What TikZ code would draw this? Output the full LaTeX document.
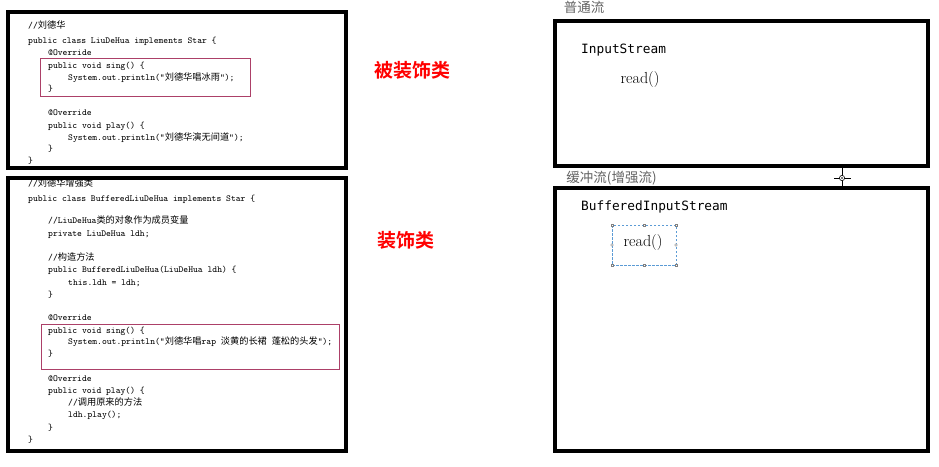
\documentclass[tikz,border=0pt]{standalone}
\usepackage{fontspec}
\newfontfamily\cjk[BoldFont={Noto Sans CJK SC Bold}]{Noto Sans CJK SC}
\newfontfamily\consfont{DejaVu Sans Mono}
\newcommand\codefont{\fontsize{9.2}{11}\selectfont\ttfamily}
\newcommand\zhtext[1]{{\cjk #1}}
\definecolor{hlred}{RGB}{172,64,104}
\definecolor{lblgray}{RGB}{100,100,100}
\definecolor{selblue}{RGB}{91,155,213}
\begin{document}
\begin{tikzpicture}[x=1pt,y=-1pt,
  code/.style={anchor=base west,inner sep=0pt,font=\codefont},
  framebox/.style={draw=black,line width=4pt},
  hlbox/.style={draw=hlred,line width=0.9pt},
  redlabel/.style={text=red,inner sep=0pt,font=\cjk\bfseries\fontsize{19}{19}\selectfont},
  graylabel/.style={text=lblgray,inner sep=0pt,font=\cjk\fontsize{13.5}{14}\selectfont},
  classname/.style={anchor=west,inner sep=0pt,font=\consfont\fontsize{12.8}{13}\selectfont},
  method/.style={inner sep=0pt,font=\fontsize{16}{16}\selectfont},
  handle/.style={draw=gray,fill=white,line width=0.4pt,minimum size=2.6pt,inner sep=0pt}
]
\useasboundingbox (0,0) rectangle (939,466);
\fill[white] (0,0) rectangle (939,466);

% ---------- left frames ----------
\draw[framebox] (8,12) rectangle (345.5,167.5);
\draw[framebox] (8,177.5) rectangle (345.5,451);
\draw[hlbox] (40,58) rectangle (250,96);
\draw[hlbox] (41,324) rectangle (339,369);

% ---------- code 1 ----------
\node[code] (c1a) at (28,28) {//\zhtext{刘德华}};
\node[code] (c1b) at (28,43) {public class LiuDeHua implements Star \{};
\node[code] (c1c) at (48,55) {@Override};
\node[code] (c1d) at (48,68) {public void sing() \{};
\node[code] (c1e) at (68,80) {System.out.println("\zhtext{刘德华唱冰雨}");};
\node[code] (c1f) at (48,91) {\}};
\node[code] (c1g) at (48,115) {@Override};
\node[code] (c1h) at (48,128) {public void play() \{};
\node[code] (c1i) at (68,140) {System.out.println("\zhtext{刘德华演无间道}");};
\node[code] (c1j) at (48,151) {\}};
\node[code] (c1k) at (28,163) {\}};

% ---------- code 2 ----------
\node[code] (c2a) at (28,186) {//\zhtext{刘德华增强类}};
\node[code] (c2b) at (28,201) {public class BufferedLiuDeHua implements Star \{};
\node[code] (c2c) at (48,223) {//LiuDeHua\zhtext{类的对象作为成员变量}};
\node[code] (c2d) at (48,236) {private LiuDeHua ldh;};
\node[code] (c2e) at (48,260) {//\zhtext{构造方法}};
\node[code] (c2f) at (48,272) {public BufferedLiuDeHua(LiuDeHua ldh) \{};
\node[code] (c2g) at (68,285) {this.ldh = ldh;};
\node[code] (c2h) at (48,297) {\}};
\node[code] (c2i) at (48,320) {@Override};
\node[code] (c2j) at (48,333) {public void sing() \{};
\node[code] (c2k) at (68,344) {System.out.println("\zhtext{刘德华唱}rap \zhtext{淡黄的长裙} \zhtext{蓬松的头发}");};
\node[code] (c2l) at (48,356) {\}};
\node[code] (c2m) at (48,381) {@Override};
\node[code] (c2n) at (48,393) {public void play() \{};
\node[code] (c2o) at (68,405) {//\zhtext{调用原来的方法}};
\node[code] (c2p) at (68,417) {ldh.play();};
\node[code] (c2q) at (48,430) {\}};
\node[code] (c2r) at (28,442) {\}};

% ---------- red labels ----------
\node[redlabel] (lab1) at (412,70) {被装饰类};
\node[redlabel] (lab2) at (406,240) {装饰类};

% ---------- right frames ----------
\node[graylabel] (g1) at (584,7.5) {普通流};
\draw[framebox] (555,20.5) rectangle (928,165.5);
\node[classname] (is) at (581,50) {InputStream};
\node[method] (r1) at (640,80) {read()};

\node[graylabel] (g2) at (611.5,178) {缓冲流(增强流)};
\draw[framebox] (555,188) rectangle (928,450.5);
\node[classname] (bis) at (581,207) {BufferedInputStream};

% selection around read()
\node[method] (r2) at (643,243) {read()};
\draw[selblue,dashed,line width=0.7pt,dash pattern=on 2.5pt off 1.5pt] (612,225) rectangle (676,265);
\foreach \hx/\hy in {612/225,644/225,676/225,612/265,644/265,676/265}
  \node[handle] at (\hx,\hy) {};
\foreach \hx/\hy in {612/245,676/245}
  \node[handle,circle,minimum size=2.8pt] at (\hx,\hy) {};

% cursor
\coordinate (ct) at (842,167.5);
\coordinate (cb) at (842,186);
\coordinate (cc) at (842,178);
\draw[line width=1pt] (ct) -- (cb);
\draw[line width=1pt] ([xshift=-8pt]cc) -- ([xshift=9pt]cc);
\draw[fill=white,line width=0.6pt] (cc) circle (2.6pt);
\fill (cc) circle (0.8pt);
\end{tikzpicture}
\end{document}
